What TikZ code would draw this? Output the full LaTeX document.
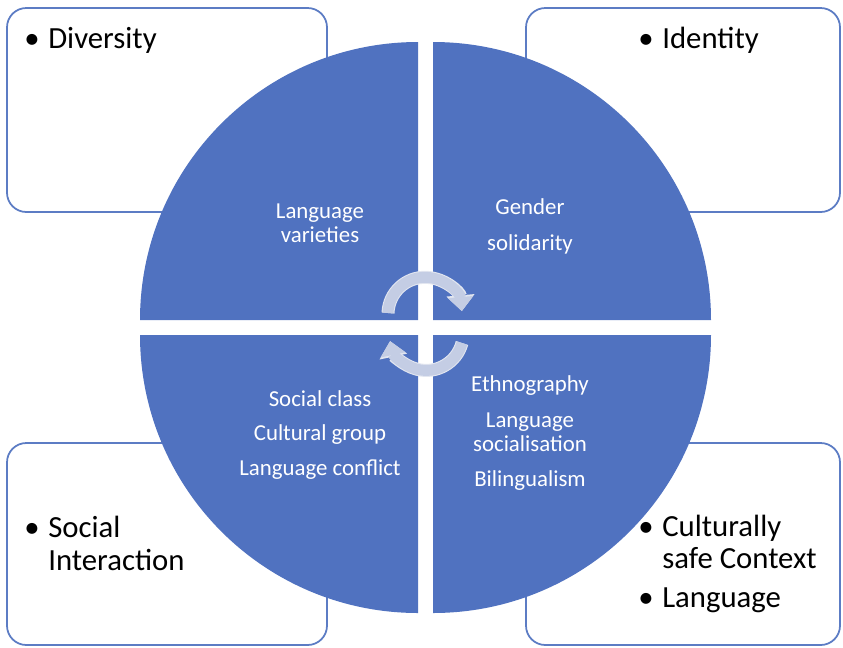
\documentclass[tikz,border=0pt]{standalone}
\usepackage{fontspec}
\setmainfont{Carlito}
\usetikzlibrary{arrows.meta}
\definecolor{quadblue}{RGB}{80,114,192}
\definecolor{boxline}{RGB}{92,124,196}
\definecolor{arrowfill}{RGB}{196,205,228}
\definecolor{arrowedge}{RGB}{226,230,240}

\begin{document}
\begin{tikzpicture}[x=0.02cm,y=-0.02cm,
        outerbox/.style={draw=boxline, line width=1pt, rounded corners=11pt, fill=white},
        quadrant/.style={fill=quadblue},
        innertext/.style={text=white, align=center, inner sep=0pt, font=\fontsize{13}{13.8}\selectfont},
        outertext/.style={text=black, align=left, inner sep=0pt, anchor=base west, font=\fontsize{17.5}{18.4}\selectfont},
        cyclearrow/.style={draw=arrowfill, line width=6.2pt, -{Triangle[width=14pt,length=8pt]},
            preaction={draw=arrowedge, line width=7.4pt, -{Triangle[width=15.5pt,length=9pt]}}}]
        \useasboundingbox (0,0) rectangle (843,647);
        % four boxes behind the circle
        \draw[outerbox] (7,8) rectangle (327,212);
        \draw[outerbox] (526,8) rectangle (840,212);
        \draw[outerbox] (7,443) rectangle (327,645);
        \draw[outerbox] (526,443) rectangle (840,645);
        % quadrants
        \fill[quadrant] (418,320) -- ++(-278,0) arc[start angle=180, end angle=270, radius=278] -- cycle;
        \fill[quadrant] (433,320) -- ++(0,-278) arc[start angle=270, end angle=360, radius=278] -- cycle;
        \fill[quadrant] (433,335) -- ++(278,0) arc[start angle=0, end angle=90, radius=278] -- cycle;
        \fill[quadrant] (418,335) -- ++(0,278) arc[start angle=90, end angle=180, radius=278] -- cycle;
        \node[innertext] (varieties) at (320,223) {Language\\varieties};
        \node[innertext] (gender) at (530,226) {Gender\\[6.6pt]solidarity};
        \node[innertext] (class) at (320,435) {Social class\\[6pt]Cultural group\\[6pt]Language conflict};
        \node[innertext] (ethno) at (530,433) {Ethnography\\[6.4pt]Language\\socialisation\\[6pt]Bilingualism};
        % box texts
        \node[outertext] (diversity) at (48,48) {\llap{\textbullet\hspace{5pt}}Diversity};
        \node[outertext] (identity) at (662,48) {\llap{\textbullet\hspace{5pt}}Identity};
        \node[outertext] (social) at (48,570) {\llap{\textbullet\hspace{5pt}}Social\\Interaction};
        \node[outertext] (context) at (662,607) {\llap{\textbullet\hspace{5pt}}Culturally\\safe Context\\[3.4pt]\llap{\textbullet\hspace{5pt}}Language};
        % cycle arrows
        \coordinate (toptail) at (388,313);
        \coordinate (bottail) at (462,343);
        \draw[cyclearrow] (toptail) arc[start angle=182, end angle=355, radius=37];
        \draw[cyclearrow] (bottail) arc[start angle=15, end angle=168, radius=37];
\end{tikzpicture}
\end{document}
